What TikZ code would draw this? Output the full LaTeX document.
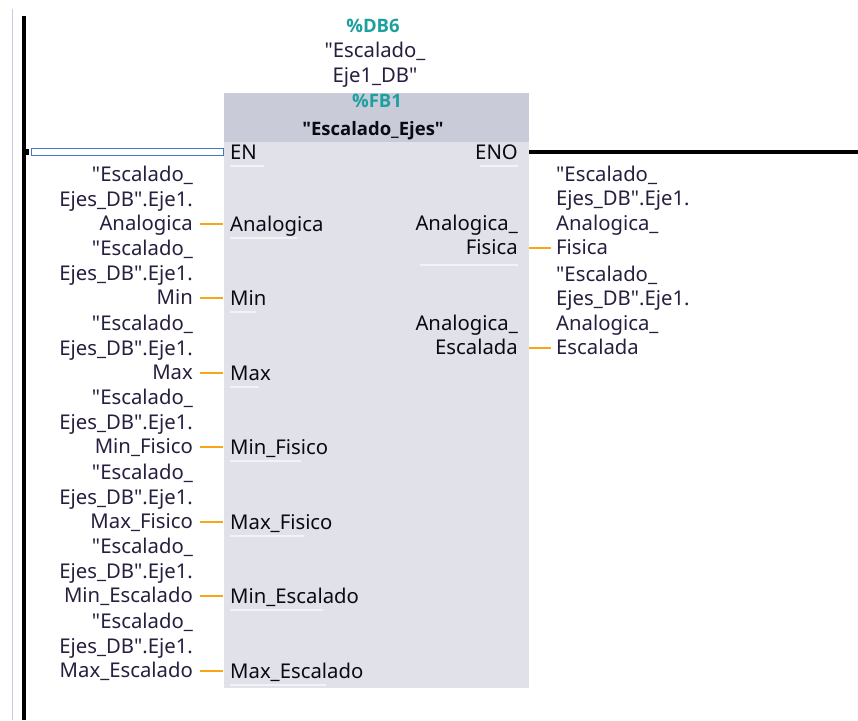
\documentclass[tikz,border=0pt]{standalone}
\usepackage{fontspec}
\setmainfont{Noto Sans}[Ligatures=TeXOff]
\newfontfamily\boldf{Open Sans}[Ligatures=TeXOff]
\usetikzlibrary{calc}
\definecolor{labc}{RGB}{40,30,62}
\definecolor{pinc}{RGB}{10,10,20}
\definecolor{wireo}{RGB}{250,165,20}
\definecolor{headc}{RGB}{201,203,216}
\definecolor{bodyc}{RGB}{224,225,233}
\definecolor{tealc}{RGB}{30,160,160}
\definecolor{railc}{RGB}{200,200,235}
\definecolor{selc}{RGB}{70,120,200}
\definecolor{ulc}{RGB}{242,242,247}
\begin{document}
\begin{tikzpicture}[x=1pt,y=-1pt]
\tikzset{
  txt/.style={font=\fontsize{20.3}{24.5}\selectfont, inner sep=0pt},
  lab/.style={txt, text=labc, text depth=5pt},
  pinl/.style={txt, text=pinc},
  wire/.style={draw=wireo, line width=2.8pt},
  uline/.style={draw=ulc, line width=1.2pt},
  ttl/.style={font=\boldf\fontsize{18.5}{24}\selectfont\bfseries, text=tealc, inner sep=0pt, anchor=base},
}
\useasboundingbox (0,0) rectangle (858,720);
\fill[white] (0,0) rectangle (858,720);
% rails
\draw[railc, line width=1pt] (12,9) -- (12,720);
\draw[black, line width=3.3pt] (24,16) -- (24,720);
% block
\fill[bodyc] (224,93) rectangle (529,688);
\fill[headc] (224,93) rectangle (529,142);
% titles
\node[ttl] (db) at (373,32) {\%DB6};
\node[txt, text=labc, anchor=base] (dbn1) at (375,57) {"Escalado\_};
\node[txt, text=labc, anchor=base] (dbn2) at (375,82) {Eje1\_DB"};
\node[ttl] (fb) at (377,107) {\%FB1};
\node[txt, text=pinc, anchor=base, font=\boldf\fontsize{18.5}{24}\selectfont\bfseries] (fbn) at (373,135) {"Escalado\_Ejes"};
% EN / ENO
\node[pinl, anchor=base west] (pEN) at (230,159) {EN};
\node[pinl, anchor=base east] (pENO) at (518,159) {ENO};
\coordinate (railEN) at (24,152);
\coordinate (enL) at (31,152);
\coordinate (enR) at (223,152);
\fill[black] (railEN) ++(-2,-3) rectangle ++(7,6);
\draw[selc, fill=white, line width=1pt] ($(enL)+(0,-3.5)$) rectangle ($(enR)+(0,3.5)$);
\coordinate (enoR) at (858,152);
\draw[black, line width=4pt] (529,152) -- (enoR);
\draw[uline] ($(pEN.base west)+(0,7)$) -- ++(34,0);
\draw[uline] ($(pENO.base east)+(0,7)$) -- ++(-38,0);
% inputs
\foreach \nm/\y/\t in {An/224/Analogica, Mi/298/Min, Ma/373/Max, MiF/447/Min\_Fisico, MaF/522/Max\_Fisico, MiE/596/Min\_Escalado, MaE/671/Max\_Escalado}{
  \node[lab, align=right, anchor=south east] (l\nm) at (193,\y+12) {"Escalado\_\\Ejes\_DB".Eje1.\\\t};
  \node[pinl, anchor=base west] (p\nm) at (230,\y+7) {\t};
  \draw[wire] ([shift={(7,-12)}]l\nm.south east) -- ([shift={(-7,-7)}]p\nm.base west);
  \draw[uline] ([shift={(0,7)}]p\nm.base west) -- ($([shift={(0,7)}]p\nm.base west)!0.72!([shift={(0,7)}]p\nm.base east)$);
}
% outputs
\foreach \nm/\y/\t in {AF/248/Fisica, AE/348/Escalada}{
  \node[pinl, text depth=5pt, align=right, anchor=south east] (p\nm) at (518,\y+12) {Analogica\_\\\t};
  \node[lab, align=left, anchor=south west] (l\nm) at (556,\y+12) {"Escalado\_\\Ejes\_DB".Eje1.\\Analogica\_\\\t};
  \draw[wire] ([shift={(11,-12)}]p\nm.south east) -- ([shift={(-5,-12)}]l\nm.south west);
}
\draw[uline] (420,265) -- (518,265);
\end{tikzpicture}
\end{document}
